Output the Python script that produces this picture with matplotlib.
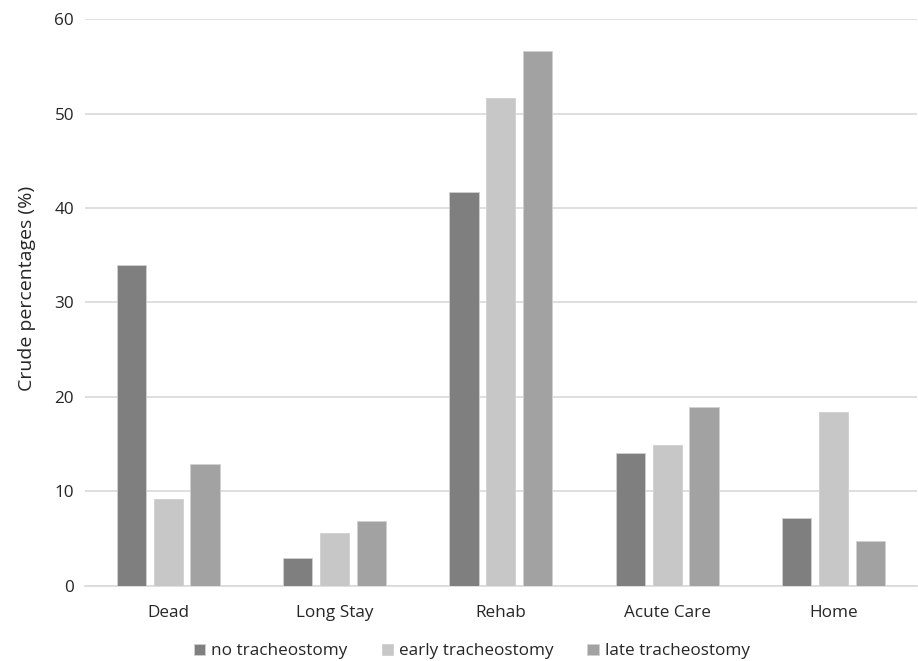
import numpy as np
import matplotlib
matplotlib.use("Agg")
import matplotlib.pyplot as plt

plt.rcParams['font.family'] = ['Open Sans', 'DejaVu Sans']

# data
categories = ["Dead", "Long Stay", "Rehab", "Acute Care", "Home"]
no_trach = [34.0, 2.9, 41.7, 14.1, 7.2]
early_trach = [9.2, 5.6, 51.7, 14.9, 18.4]
late_trach = [12.9, 6.9, 56.6, 18.9, 4.7]
series_names = ["no tracheostomy", "early tracheostomy", "late tracheostomy"]
yticks = [0, 10, 20, 30, 40, 50, 60]

colors = ["#7f7f7f", "#c6c7c6", "#a2a2a2"]

fig = plt.figure(figsize=(9.18, 6.61), dpi=100)
ax = fig.add_axes([0.0926, 0.114, 0.906, 0.857])

x = np.arange(len(categories))
width = 0.176
step = 0.222
for i, (vals, name) in enumerate(zip([no_trach, early_trach, late_trach], series_names)):
    ax.bar(x + (i - 1) * step, vals, width, color=colors[i], label=name,
           edgecolor="#d0d0d0", linewidth=0.6, zorder=3)

ax.set_xlim(-0.5, len(categories) - 0.5)
ax.set_ylim(0, 60)
ax.set_yticks(yticks)
ax.set_xticks(x)
ax.set_xticklabels(categories)
ax.tick_params(axis="both", length=0, labelsize=12.3, colors="#262626", pad=8)
ax.tick_params(axis="x", pad=14)
ax.yaxis.grid(True, color="#d9d9d9", linewidth=1.2, zorder=0)
for s in ["top", "right", "left"]:
    ax.spines[s].set_visible(False)
ax.spines["bottom"].set_color("#d9d9d9")
ax.spines["bottom"].set_linewidth(1.2)

ax.set_ylabel("Crude percentages (%)", fontsize=14, color="#262626")
ax.yaxis.set_label_coords(-0.059, 0.524)

leg = ax.legend(loc="center", bbox_to_anchor=(0.465, -0.116), ncol=3,
                frameon=False, fontsize=12.3, handlelength=0.65, handleheight=0.65,
                handletextpad=0.35, columnspacing=2.0, borderpad=0.1)
for t in leg.get_texts():
    t.set_color("#262626")

fig.savefig("out.png", dpi=100)
